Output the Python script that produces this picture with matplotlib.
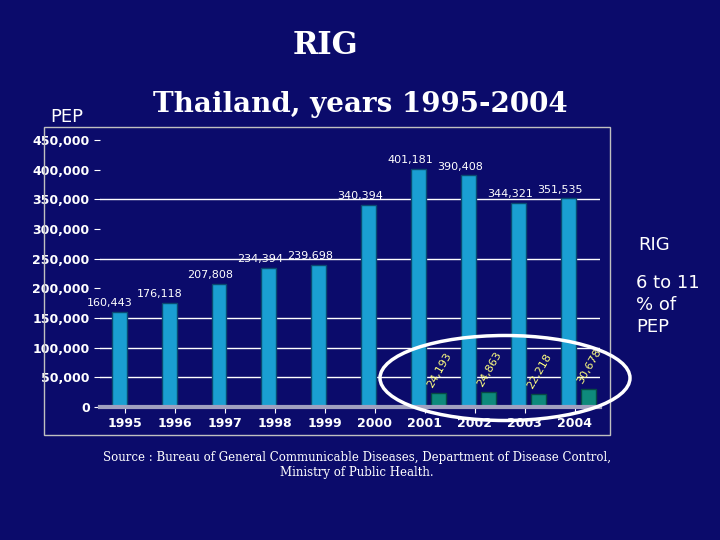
import matplotlib

matplotlib.use("Agg")
import matplotlib.pyplot as plt
import numpy as np
from matplotlib.patches import Ellipse, Rectangle

years = ["1995", "1996", "1997", "1998", "1999", "2000", "2001", "2002", "2003", "2004"]
pep = [160443, 176118, 207808, 234394, 239698, 340394, 401181, 390408, 344321, 351535]
rig = [0, 0, 0, 0, 0, 0, 24193, 24863, 22218, 30678]
y_ticks = [0, 50000, 100000, 150000, 200000, 250000, 300000, 350000, 400000, 450000]

BG = "#0b0b6b"
fig = plt.figure(figsize=(7.2, 5.4), dpi=100, facecolor=BG)
ax = fig.add_axes([0.139, 0.2463, 0.694, 0.4944], facecolor=BG)

x = np.arange(len(years))
for g in [50000, 100000, 150000, 250000, 350000]:
    ax.axhline(g, color="white", lw=1, zorder=0)
ax.bar(x - 0.12, pep, width=0.3, color="#1a9fd2", edgecolor="#0a4a70", zorder=2)
mask = np.array(rig) > 0
ax.bar(x[mask] + 0.28, np.array(rig)[mask], width=0.3, color="#0e8a7c",
       edgecolor="#064a44", zorder=2)

for i, v in enumerate(pep):
    ax.text(i - 0.3, v + 6000, f"{v:,}", color="white", fontsize=8, ha="center", va="bottom")
for i, v in enumerate(rig):
    if v:
        ax.text(i + 0.3, v + 6000, f"{v:,}", color="#ffff80", fontsize=8, rotation=60,
                ha="center", va="bottom")

ax.set_xlim(-0.5, 9.5)
ax.set_ylim(0, 450000)
ax.set_xticks(x, years)
ax.set_yticks(y_ticks, [f"{t:,}" for t in y_ticks])
ax.tick_params(colors="white", labelsize=9, length=4)
for lab in ax.get_xticklabels() + ax.get_yticklabels():
    lab.set_fontweight("bold")
for s in ["top", "right", "left"]:
    ax.spines[s].set_visible(False)
ax.spines["bottom"].set_color("#a0a0c0")
ax.spines["bottom"].set_linewidth(3)

# frame and highlight ellipse
fig.add_artist(Rectangle((44 / 720, 1 - 435 / 540), 566 / 720, 308 / 540, transform=fig.transFigure,
                         fill=False, edgecolor="#c0c0c0", lw=1))
fig.add_artist(Ellipse((505 / 720, 1 - 378 / 540), 250 / 720, 85 / 540, transform=fig.transFigure,
                       fill=False, edgecolor="white", lw=2.5, zorder=10))

fig.text(325 / 720, 1 - 45 / 540, "RIG", color="white", fontsize=22, fontweight="bold",
         family="DejaVu Serif", ha="center", va="center")
fig.text(360 / 720, 1 - 105 / 540, "Thailand, years 1995-2004", color="white", fontsize=20,
         fontweight="bold", family="DejaVu Serif", ha="center", va="center")
fig.text(50 / 720, 1 - 117 / 540, "PEP", color="white", fontsize=13, ha="left", va="center")
fig.text(638 / 720, 1 - 245 / 540, "RIG", color="white", fontsize=13, ha="left", va="center")
fig.text(636 / 720, 1 - 305 / 540, "6 to 11\n% of\nPEP", color="white", fontsize=13,
         ha="left", va="center", linespacing=1.3)
fig.text(357 / 720, 1 - 465 / 540,
         "Source : Bureau of General Communicable Diseases, Department of Disease Control,\nMinistry of Public Health.",
         color="white", fontsize=8.5, family="DejaVu Serif", ha="center", va="center")

fig.savefig("out.png", dpi=100, facecolor=BG)
